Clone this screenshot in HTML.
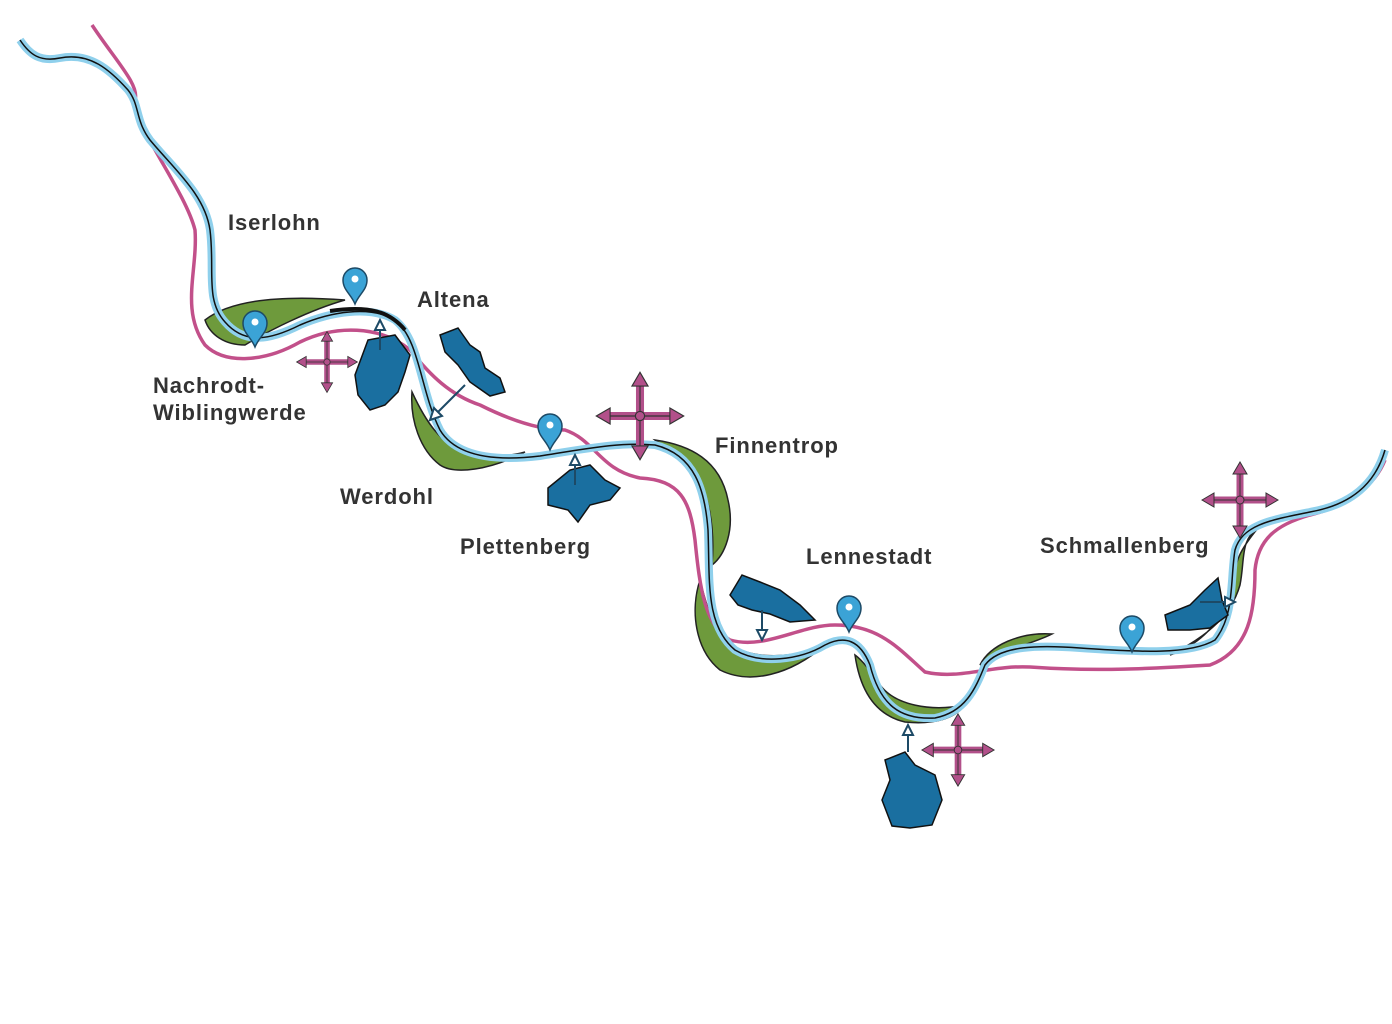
<!DOCTYPE html>
<html><head><meta charset="utf-8"><style>
html,body{margin:0;padding:0;background:#fff;}
svg{display:block}
text{font-family:"Liberation Sans",sans-serif;font-weight:bold;font-size:22px;fill:#333;letter-spacing:0.9px;}
</style></head><body>
<svg width="1392" height="1024" viewBox="0 0 1392 1024" xmlns="http://www.w3.org/2000/svg">
<defs>
<g id="cross">
<line x1="-28" y1="0" x2="28" y2="0" stroke="#b2508a" stroke-width="7"/>
<line x1="0" y1="-28" x2="0" y2="28" stroke="#b2508a" stroke-width="7"/>
<line x1="-28" y1="0" x2="28" y2="0" stroke="#333" stroke-width="1"/>
<line x1="0" y1="-28" x2="0" y2="28" stroke="#333" stroke-width="1"/>
<polygon points="-38,0 -26,-7 -26,7" fill="#b2508a" stroke="#333"/>
<polygon points="38,0 26,-7 26,7" fill="#b2508a" stroke="#333"/>
<polygon points="0,-38 -7,-26 7,-26" fill="#b2508a" stroke="#333"/>
<polygon points="0,38 -7,26 7,26" fill="#b2508a" stroke="#333"/>
<circle r="4" fill="#b2508a" stroke="#333"/>
</g>
<g id="pin">
<path d="M0,0 C-4,-10 -12,-14 -12,-24 A12,12 0 1 1 12,-24 C12,-14 4,-10 0,0Z" fill="#3ba3d6" stroke="#1d4a66" stroke-width="1.5"/>
<circle cx="0" cy="-25" r="3.5" fill="#fff"/>
</g>
</defs>

<g fill="#6e9a3c" stroke="#222" stroke-width="1.5">
<path d="M205,320 C230,300 280,295 345,300 C310,310 270,330 245,345 C225,345 210,335 205,320Z"/>
<path d="M412,392 C425,420 440,445 470,455 C495,458 515,455 525,452 C490,470 455,475 440,465 C420,450 410,420 412,392Z"/>
<path d="M655,440 C690,445 720,460 728,500 C735,530 725,555 712,565 C715,530 710,490 690,465 C680,455 665,448 655,440Z"/>
<path d="M700,580 C690,610 695,650 720,670 C750,685 790,675 825,645 C790,660 745,660 725,640 C710,620 705,600 700,580Z"/>
<path d="M855,655 C860,690 875,715 905,722 C935,725 955,718 965,705 C930,712 895,705 880,685 C870,670 862,660 855,655Z"/>
<path d="M980,665 C990,645 1020,632 1052,634 C1030,645 1000,650 980,665Z"/>
<path d="M1170,655 C1200,640 1230,620 1240,585 C1245,560 1240,540 1258,528 C1240,550 1235,560 1233,585 C1225,620 1200,645 1170,655Z"/>
</g>

<path d="M92,25 C115,60 140,85 135,100 C130,120 185,190 195,230 C198,270 180,310 205,345 C225,365 265,362 300,342 C335,325 380,325 410,350 C430,375 450,395 480,405 C510,420 540,430 565,430 C595,440 600,470 640,478 C680,480 690,500 695,540 C700,590 705,625 730,640 C765,650 800,625 835,625 C880,625 900,650 925,672 C960,680 990,665 1030,667 C1100,672 1160,668 1210,665 C1250,650 1255,610 1255,570 C1258,540 1275,525 1310,515 C1350,505 1375,485 1385,460" fill="none" stroke="#c2508a" stroke-width="3.5"/>

<path d="M20,40 C30,55 40,62 60,58 C90,52 110,70 128,90 C140,105 135,120 150,140 C175,170 205,195 210,230 C215,270 205,300 225,322 C245,345 270,340 300,325 C330,312 370,305 395,320 C420,340 420,390 440,430 C455,455 490,462 540,456 C590,448 620,442 655,445 C695,455 705,490 708,530 C710,580 705,625 735,650 C760,665 800,660 825,645 C845,635 860,640 870,665 C880,705 900,720 935,718 C965,712 975,690 985,665 C1000,645 1040,645 1080,648 C1140,652 1190,655 1215,640 C1235,615 1230,580 1235,550 C1242,525 1270,520 1310,512 C1350,505 1375,485 1385,450" fill="none" stroke="#8fd0ec" stroke-width="8"/>
<path d="M20,40 C30,55 40,62 60,58 C90,52 110,70 128,90 C140,105 135,120 150,140 C175,170 205,195 210,230 C215,270 205,300 225,322 C245,345 270,340 300,325 C330,312 370,305 395,320 C420,340 420,390 440,430 C455,455 490,462 540,456 C590,448 620,442 655,445 C695,455 705,490 708,530 C710,580 705,625 735,650 C760,665 800,660 825,645 C845,635 860,640 870,665 C880,705 900,720 935,718 C965,712 975,690 985,665 C1000,645 1040,645 1080,648 C1140,652 1190,655 1215,640 C1235,615 1230,580 1235,550 C1242,525 1270,520 1310,512 C1350,505 1375,485 1385,450" fill="none" stroke="#111" stroke-width="1.5"/>
<path d="M330,311 C370,305 390,312 405,330" fill="none" stroke="#111" stroke-width="4"/>

<g fill="#1a6fa0" stroke="#111" stroke-width="1.5">
<path d="M368,340 L395,335 L410,355 L405,372 L398,392 L385,405 L370,410 L358,395 L355,375 Z"/>
<path d="M440,335 L458,328 L470,345 L480,352 L485,368 L500,378 L505,392 L490,396 L470,382 L458,365 L445,352 Z"/>
<path d="M548,488 L570,470 L590,465 L605,480 L620,488 L610,500 L590,505 L578,522 L568,510 L548,505 Z"/>
<path d="M730,595 L742,575 L760,582 L780,590 L800,605 L815,620 L790,622 L770,614 L752,610 L738,605 Z"/>
<path d="M885,760 L905,752 L915,765 L935,775 L942,800 L932,825 L910,828 L892,826 L882,800 L890,780 Z"/>
<path d="M1165,615 L1190,605 L1205,590 L1218,578 L1222,600 L1228,615 L1210,628 L1190,630 L1168,630 Z"/>
</g>
<g stroke="#1d4a66" stroke-width="2" fill="#fff">
<line x1="380" y1="325" x2="380" y2="350"/><polygon points="380,320 375,330 385,330"/>
<line x1="435" y1="415" x2="465" y2="385"/><polygon points="430,420 434,408 442,416"/>
<line x1="575" y1="460" x2="575" y2="485"/><polygon points="575,455 570,465 580,465"/>
<line x1="762" y1="610" x2="762" y2="635"/><polygon points="762,640 757,630 767,630"/>
<line x1="908" y1="730" x2="908" y2="752"/><polygon points="908,725 903,735 913,735"/>
<line x1="1200" y1="602" x2="1230" y2="602"/><polygon points="1235,602 1225,597 1225,607"/>
</g>

<use href="#cross" transform="translate(327,362) scale(0.8)"/>
<use href="#cross" transform="translate(640,416) scale(1.15)"/>
<use href="#cross" transform="translate(958,750) scale(0.95)"/>
<use href="#cross" transform="translate(1240,500) scale(1.0)"/>

<use href="#pin" transform="translate(255,347)"/>
<use href="#pin" transform="translate(355,304)"/>
<use href="#pin" transform="translate(550,450)"/>
<use href="#pin" transform="translate(849,632)"/>
<use href="#pin" transform="translate(1132,652)"/>

<text x="228" y="230">Iserlohn</text>
<text x="417" y="307">Altena</text>
<text x="153" y="393">Nachrodt-</text>
<text x="153" y="420">Wiblingwerde</text>
<text x="340" y="504">Werdohl</text>
<text x="460" y="554">Plettenberg</text>
<text x="715" y="453">Finnentrop</text>
<text x="806" y="564">Lennestadt</text>
<text x="1040" y="553">Schmallenberg</text>
</svg>
</body></html>
